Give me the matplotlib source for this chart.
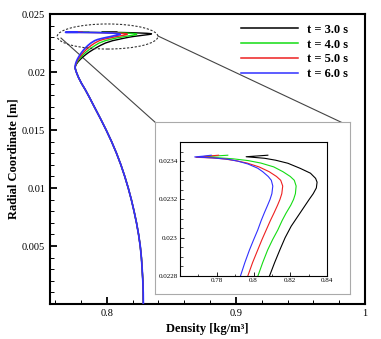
import matplotlib
matplotlib.use("Agg")
import matplotlib.pyplot as plt
from matplotlib.patches import Ellipse
from matplotlib.ticker import FixedLocator, MultipleLocator, FuncFormatter
from matplotlib.lines import Line2D

plt.rcParams['font.family'] = ['Liberation Serif', 'DejaVu Serif']

# ---------------- data ----------------
labels = ["t = 3.0 s", "t = 4.0 s", "t = 5.0 s", "t = 6.0 s"]
colors = ["black", "#14dc14", "#ee2020", "#3030ff"]

# shared lower profile (radial coordinate [m], density [kg/m3])
r_base = [0.0, 0.0010, 0.0020, 0.0030, 0.0040, 0.0050, 0.0060, 0.0070, 0.0080,
          0.0090, 0.0100, 0.0110, 0.0120, 0.0130, 0.0140, 0.0150, 0.0160,
          0.0170, 0.0178, 0.0185, 0.0190, 0.0195, 0.0199, 0.0202, 0.02034]
rho_base = [0.8283, 0.8282, 0.8279, 0.8274, 0.8268, 0.8259, 0.8246, 0.8230, 0.8211,
            0.8190, 0.8166, 0.8139, 0.8109, 0.8075, 0.8037, 0.7995, 0.7950,
            0.7903, 0.7866, 0.7832, 0.7805, 0.7782, 0.7767, 0.7758, 0.7755]

# upper profile for each time (ordered along the curve)
r_up_t3 = [0.0205, 0.0207, 0.0209, 0.0211, 0.0213, 0.0215, 0.0217, 0.0219, 0.0221,
           0.0223, 0.0225, 0.0227, 0.0228, 0.02287, 0.02294, 0.0230, 0.02306,
           0.02311, 0.02316, 0.0232, 0.02323, 0.02326, 0.02329, 0.02331, 0.023337,
           0.023362, 0.023389, 0.023405, 0.023415, 0.023423, 0.023427, 0.023431]
rho_up_t3 = [0.7757, 0.7766, 0.7779, 0.7796, 0.7815, 0.7837, 0.7861, 0.7889, 0.7919,
             0.7952, 0.7990, 0.8045, 0.8087, 0.8115, 0.8145, 0.8172, 0.8205,
             0.8240, 0.8275, 0.8303, 0.8325, 0.8342, 0.8346, 0.8338, 0.8310,
             0.8255, 0.8187, 0.8120, 0.8060, 0.7960, 0.8020, 0.8078]

r_up_t4 = [0.0205, 0.0207, 0.0209, 0.0211, 0.0213, 0.0215, 0.0217, 0.0219, 0.0221,
           0.0223, 0.0225, 0.0227, 0.0228, 0.02287, 0.022936, 0.02299, 0.02304,
           0.02309, 0.023128, 0.02317, 0.0232, 0.02323, 0.02327, 0.0233, 0.02332,
           0.023345, 0.02337, 0.02339, 0.023403, 0.023412, 0.023418, 0.02342,
           0.023426, 0.023431]
rho_up_t4 = [0.7756, 0.7763, 0.7773, 0.7786, 0.7801, 0.7818, 0.7838, 0.7860, 0.7884,
             0.7911, 0.7941, 0.7988, 0.8024, 0.8050, 0.8077, 0.8104, 0.8132,
             0.8156, 0.8177, 0.8203, 0.8218, 0.8228, 0.8232, 0.8222, 0.8200,
             0.8160, 0.8110, 0.8040, 0.7970, 0.7890, 0.7805, 0.7696,
             0.7780, 0.7860]

r_up_t5 = [0.0205, 0.0207, 0.0209, 0.0211, 0.0213, 0.0215, 0.0217, 0.0219, 0.0221,
           0.0223, 0.0225, 0.0227, 0.0228, 0.02287, 0.022936, 0.02299, 0.02304,
           0.02309, 0.02313, 0.02317, 0.0232, 0.02323, 0.02327, 0.0233, 0.02332,
           0.023345, 0.02337, 0.02339, 0.023402, 0.023411, 0.023417, 0.02342,
           0.023426, 0.023431]
rho_up_t5 = [0.7756, 0.7761, 0.7769, 0.7779, 0.7791, 0.7805, 0.7820, 0.7838, 0.7858,
             0.7881, 0.7907, 0.7942, 0.7969, 0.7995, 0.8023, 0.8046, 0.8069,
             0.8092, 0.8112, 0.8131, 0.8144, 0.8154, 0.8159, 0.8148, 0.8125,
             0.8085, 0.8030, 0.7965, 0.7905, 0.7845, 0.7775, 0.7687,
             0.7750, 0.7810]

r_up_t6 = [0.0205, 0.0207, 0.0209, 0.0211, 0.0213, 0.0215, 0.0217, 0.0219, 0.0221,
           0.0223, 0.0225, 0.0227, 0.0228, 0.02287, 0.022936, 0.02299, 0.02304,
           0.02309, 0.02313, 0.02317, 0.0232, 0.02323, 0.02327, 0.0233, 0.02332,
           0.023345, 0.023363, 0.023385, 0.0234, 0.02341, 0.023417, 0.023422,
           0.023426, 0.023431]
rho_up_t6 = [0.7755, 0.7758, 0.7764, 0.7772, 0.7782, 0.7793, 0.7806, 0.7820, 0.7836,
             0.7855, 0.7877, 0.7906, 0.7929, 0.7953, 0.7978, 0.8001, 0.8023,
             0.8042, 0.8059, 0.8077, 0.8090, 0.8100, 0.8105, 0.8097, 0.8080,
             0.8050, 0.8023, 0.7970, 0.7915, 0.7860, 0.7780, 0.7680,
             0.7725, 0.7770]

r_up = [r_up_t3, r_up_t4, r_up_t5, r_up_t6]
rho_up = [rho_up_t3, rho_up_t4, rho_up_t5, rho_up_t6]

main_xticks = [0.8, 0.9, 1.0]
main_yticks = [0.005, 0.01, 0.015, 0.02, 0.025]
inset_xticks = [0.78, 0.8, 0.82, 0.84]
inset_yticks = [0.0228, 0.023, 0.0232, 0.0234]

# ---------------- figure ----------------
W, H = 381, 339
fig = plt.figure(figsize=(W / 100, H / 100), dpi=100)

def px_rect(l, t, r, b):
    return [l / W, (H - b) / H, (r - l) / W, (b - t) / H]

ax = fig.add_axes(px_rect(50, 14, 365, 304))
gfmt = FuncFormatter(lambda v, p: "%g" % v)

main_lw = [1.0, 1.0, 1.0, 1.25]
for i in range(4):
    xs = list(rho_base) + list(rho_up[i])
    ys = list(r_base) + list(r_up[i])
    ax.plot(xs, ys, color=colors[i], lw=main_lw[i], label=labels[i], zorder=3,
            solid_joinstyle='round')

ax.set_xlim(0.756, 1.0)
ax.set_ylim(0.0, 0.025)
ax.xaxis.set_major_locator(FixedLocator(main_xticks))
ax.yaxis.set_major_locator(FixedLocator(main_yticks))
ax.xaxis.set_minor_locator(MultipleLocator(0.02))
ax.yaxis.set_minor_locator(MultipleLocator(0.001))
ax.xaxis.set_major_formatter(gfmt)
ax.yaxis.set_major_formatter(gfmt)
ax.tick_params(which='both', direction='in', top=False, right=False,
               labelsize=7.5)
ax.tick_params(which='major', length=5, width=1.3)
ax.tick_params(which='minor', length=3, width=0.7)
for s in ax.spines.values():
    s.set_linewidth(1.5)
ax.set_xlabel("Density [kg/m³]", fontsize=9, fontweight='bold', labelpad=4)
ax.set_ylabel("Radial Coordinate [m]", fontsize=9, fontweight='bold', labelpad=2)

leg = ax.legend(loc='upper left', bbox_to_anchor=(0.606, 0.966), frameon=False,
                handlelength=4.6, handletextpad=0.7, labelspacing=0.22,
                borderpad=0, borderaxespad=0,
                prop={'weight': 'bold', 'size': 9})
for h in leg.get_lines():
    h.set_linewidth(1.1)

# ellipse and connector lines
ell = Ellipse((0.8006, 0.02306), 0.078, 0.00216, fill=False, edgecolor='#333333',
              lw=0.8, ls=(0, (2, 1.5)), zorder=4)
ax.add_patch(ell)
for (x0, y0, x1, y1) in [(0.0349, 0.917, 0.3365, 0.624), (0.343, 0.924, 0.930, 0.624)]:
    ax.add_line(Line2D([x0, x1], [y0, y1], transform=ax.transAxes, color='#444444',
                       lw=0.8, clip_on=False, zorder=2))

# inset background box
box = fig.add_axes(px_rect(155, 122, 350, 294))
box.set_xticks([]); box.set_yticks([])
for s in box.spines.values():
    s.set_edgecolor('#aaaaaa'); s.set_linewidth(0.8)
box.set_zorder(5)

ins = fig.add_axes(px_rect(180, 142, 327, 276))
ins.set_zorder(6)
for i in range(4):
    xs = list(rho_base) + list(rho_up[i])
    ys = list(r_base) + list(r_up[i])
    ins.plot(xs, ys, color=colors[i], lw=0.8, solid_joinstyle='round')
ins.set_xlim(0.76, 0.84)
ins.set_ylim(0.0228, 0.0235)
ins.xaxis.set_major_locator(FixedLocator(inset_xticks))
ins.yaxis.set_major_locator(FixedLocator(inset_yticks))
ins.xaxis.set_minor_locator(MultipleLocator(0.01))
ins.yaxis.set_minor_locator(MultipleLocator(0.00005))
ins.xaxis.set_major_formatter(gfmt)
ins.yaxis.set_major_formatter(gfmt)
ins.tick_params(which='both', direction='in', top=False, right=False,
                labelsize=5, pad=1.5)
ins.tick_params(which='major', length=3, width=0.6)
ins.tick_params(which='minor', length=1.8, width=0.5)
for s in ins.spines.values():
    s.set_linewidth(0.8)

fig.savefig("out.png", dpi=100)
